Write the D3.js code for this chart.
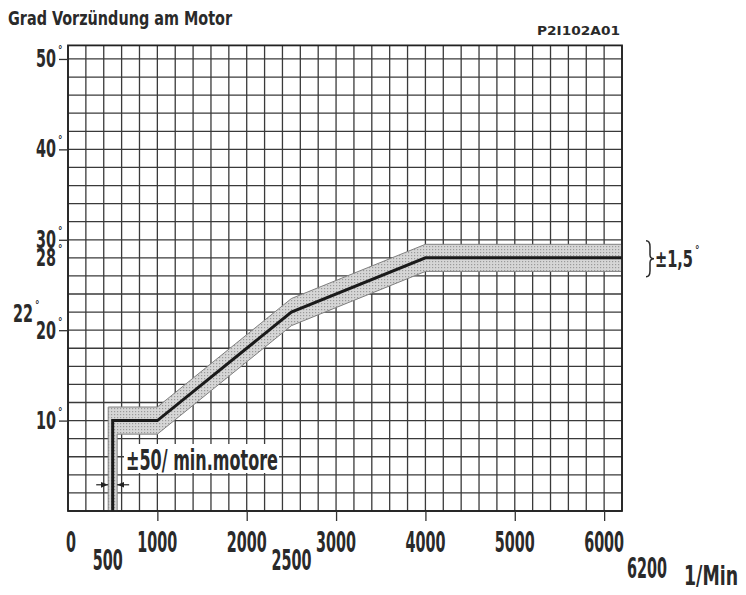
<!DOCTYPE html>
<html>
<head>
<meta charset="utf-8">
<script src="https://cdn.jsdelivr.net/npm/d3@7"></script>
<style>
  body { margin: 0; background: #fff; }
  text { font-family: "Liberation Sans Narrow", "DejaVu Sans Condensed", "Liberation Sans", sans-serif; fill: #2a2a2a; font-weight: bold; }
</style>
</head>
<body>
<svg id="chart" width="746" height="595"></svg>
<script>
// Advance curve (rpm -> degrees), tolerance band
const rpm = [500, 500, 1000, 2500, 4000, 6200];
const advance = [0, 10, 10, 22, 28, 28];
const tolDeg = 1.5;
const tolRpm = 50;

// Axis ticks and labels
const yTickVals = [10, 20, 30, 40, 50];
const yLabelVals = [10, 20, 22, 28, 30, 40, 50];
const xTickVals = [1000, 2000, 3000, 4000, 5000, 6000];
const xLabelVals = [0, 500, 1000, 2000, 2500, 3000, 4000, 5000, 6000, 6200];
const xLowered = [500, 2500, 6200];

const svg = d3.select("#chart");

const x = d3.scaleLinear().domain([0, 6200]).range([68, 622]);
const y = d3.scaleLinear().domain([0, 51.5]).range([511, 45.4]);

// Grid
const grid = svg.append("g").attr("stroke", "#3a3a3a").attr("stroke-width", 1.3);
grid.selectAll(".v")
    .data(d3.range(0, 6201, 200))
    .enter().append("line")
    .attr("x1", d => x(d)).attr("x2", d => x(d))
    .attr("y1", y(0)).attr("y2", y(51.5));
grid.selectAll(".h")
    .data(d3.range(0, 51, 2))
    .enter().append("line")
    .attr("x1", x(0)).attr("x2", x(6200))
    .attr("y1", d => y(d)).attr("y2", d => y(d));

// Tolerance band polygon
const upper = rpm.map((r, i) => [i < 2 ? r - tolRpm : r, i === 0 ? 0 : advance[i] + tolDeg]);
const lower = rpm.map((r, i) => [i < 2 ? r + tolRpm : r, i === 0 ? 0 : advance[i] - tolDeg]).reverse();

const defs = svg.append("defs");
const pat = defs.append("pattern").attr("id", "stip")
    .attr("width", 3).attr("height", 3).attr("patternUnits", "userSpaceOnUse");
pat.append("rect").attr("width", 3).attr("height", 3).attr("fill", "#d6d6d6");
pat.append("rect").attr("width", 1.2).attr("height", 1.2).attr("fill", "#9a9a9a");

svg.append("path")
    .attr("d", d3.line().x(d => x(d[0])).y(d => y(d[1]))(upper.concat(lower)) + "Z")
    .attr("fill", "url(#stip)")
    .attr("stroke", "#808080")
    .attr("stroke-width", 1);

// Center curve
svg.append("path")
    .datum(rpm.map((r, i) => [r, advance[i]]))
    .attr("d", d3.line().x(d => x(d[0])).y(d => y(d[1])))
    .attr("fill", "none")
    .attr("stroke", "#1a1a1a")
    .attr("stroke-width", 3);

// Frame
svg.append("rect")
    .attr("x", x(0)).attr("y", y(51.5))
    .attr("width", x(6200) - x(0)).attr("height", y(0) - y(51.5))
    .attr("fill", "none").attr("stroke", "#222").attr("stroke-width", 1.8);

// Axis ticks
svg.append("g")
    .attr("transform", `translate(${x(0)},0)`)
    .call(d3.axisLeft(y).tickValues(yTickVals).tickFormat("").tickSize(9))
    .call(g => g.select(".domain").remove())
    .selectAll("line").attr("stroke", "#333").attr("stroke-width", 1.3);
svg.append("g")
    .attr("transform", `translate(0,${y(0)})`)
    .call(d3.axisBottom(x).tickValues(xTickVals).tickFormat("").tickSize(10))
    .call(g => g.select(".domain").remove())
    .selectAll("line").attr("stroke", "#333").attr("stroke-width", 1.3);

function label(px, py, txt, size, width, anchor) {
    return svg.append("text")
        .attr("x", px).attr("y", py)
        .attr("font-size", size)
        .attr("text-anchor", anchor || "start")
        .attr("textLength", width)
        .attr("lengthAdjust", "spacingAndGlyphs")
        .text(txt);
}

// Y labels
yLabelVals.forEach(v => {
    let right = 56, base = y(v) + 8;
    if (v === 22) { right = 33; base = y(22) + 10; }
    if (v === 20) { base = y(20) + 9; }
    label(right, base, String(v), 25, 20, "end");
    svg.append("text").attr("x", right + 2).attr("y", base - 14)
        .attr("font-size", 10).attr("font-weight", "normal").text("°");
});

// X labels
xLabelVals.forEach(v => {
    const s = String(v);
    const w = s.length * 10;
    let cx = x(v), base = 552;
    if (v === 0) cx = x(0) + 3;
    if (xLowered.includes(v)) base = v === 6200 ? 578 : 570;
    if (v === 500) cx = x(500) - 5;
    if (v === 6200) cx = x(6200) + 25;
    label(cx, base, s, 29, w, "middle");
});
svg.append("text")
    .attr("transform", "translate(684,585) scale(1,1.2)")
    .attr("font-size", 22)
    .attr("textLength", 54).attr("lengthAdjust", "spacingAndGlyphs")
    .text("1/Min");

// Titles
label(8, 25, "Grad Vorzündung am Motor", 19, 224, "start");
svg.append("text").attr("x", 537).attr("y", 35)
    .attr("font-size", 12.5)
    .attr("font-family", "Liberation Sans, sans-serif")
    .attr("textLength", 83).attr("lengthAdjust", "spacingAndGlyphs")
    .text("P2I102A01");

// ± rpm annotation
svg.append("rect").attr("x", 124).attr("y", 444).attr("width", 155).attr("height", 29).attr("fill", "#fff");
label(126, 470, "±50/ min.motore", 28, 152, "start");
const dimY = y(2.9);
defs.append("marker").attr("id", "arr")
    .attr("viewBox", "0 0 10 10").attr("refX", 10).attr("refY", 5)
    .attr("markerWidth", 6).attr("markerHeight", 6).attr("orient", "auto")
    .append("path").attr("d", "M0,1L10,5L0,9Z").attr("fill", "#222");
svg.append("line")
    .attr("x1", x(450) - 12).attr("x2", x(450)).attr("y1", dimY).attr("y2", dimY)
    .attr("stroke", "#222").attr("stroke-width", 1.2).attr("marker-end", "url(#arr)");
svg.append("line")
    .attr("x1", x(550) + 12).attr("x2", x(550)).attr("y1", dimY).attr("y2", dimY)
    .attr("stroke", "#222").attr("stroke-width", 1.2).attr("marker-end", "url(#arr)");

// ± degree annotation with brace
const bt = y(28 + tolDeg + 0.4), bb = y(28 - tolDeg - 0.6), bm = (bt + bb) / 2, bx = 646;
svg.append("path")
    .attr("d", `M${bx},${bt} Q${bx + 4},${bt} ${bx + 4},${bt + 6} L${bx + 4},${bm - 4} Q${bx + 4},${bm} ${bx + 8},${bm}` +
               ` Q${bx + 4},${bm} ${bx + 4},${bm + 4} L${bx + 4},${bb - 6} Q${bx + 4},${bb} ${bx},${bb}`)
    .attr("fill", "none").attr("stroke", "#2a2a2a").attr("stroke-width", 1.5);
label(655, bm + 8, "±1,5", 23, 38, "start");
svg.append("text").attr("x", 695).attr("y", bm - 6).attr("font-size", 10).attr("font-weight", "normal").text("°");
</script>
</body>
</html>
